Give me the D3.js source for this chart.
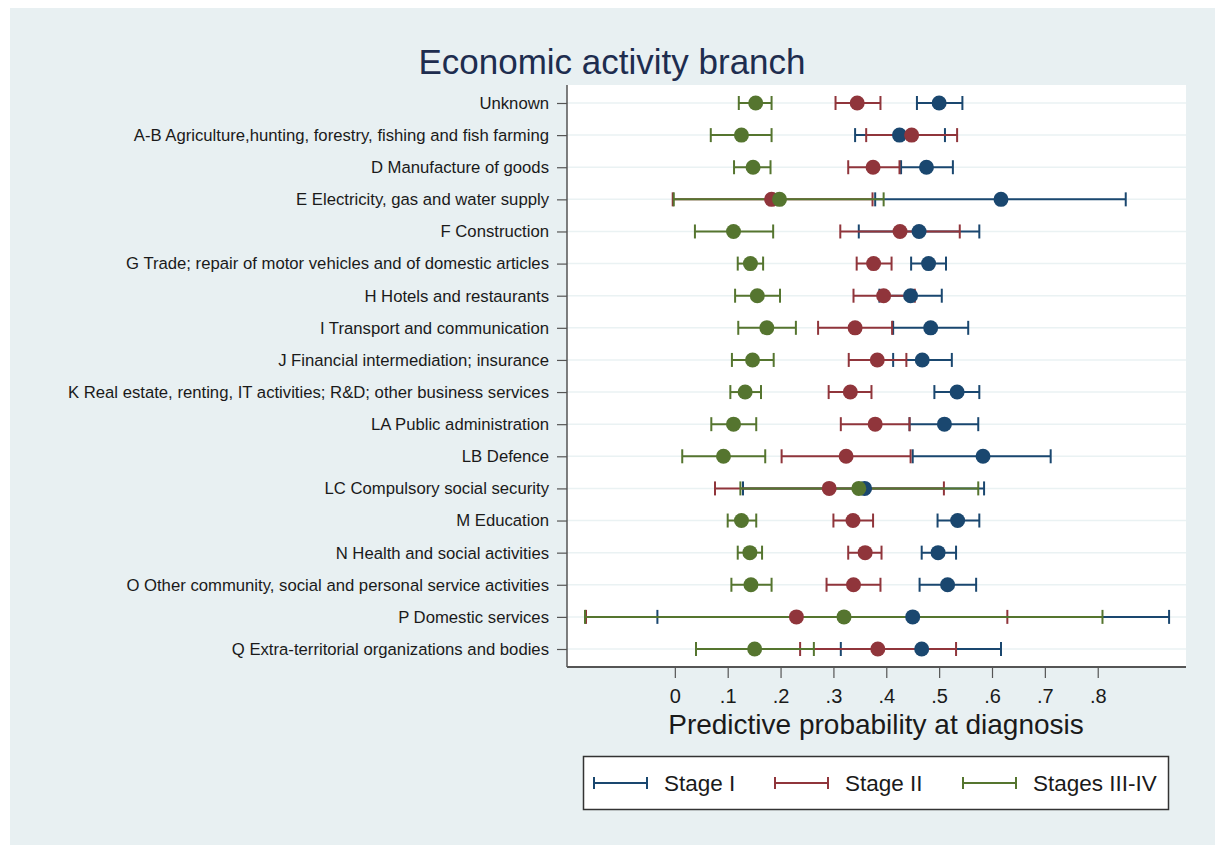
<!DOCTYPE html>
<html>
<head>
<meta charset="utf-8">
<script src="https://cdn.jsdelivr.net/npm/d3@7"></script>
<style>
  html, body { margin: 0; padding: 0; background: #ffffff; }
  svg { display: block; font-family: "Liberation Sans", Arial, sans-serif; }
</style>
</head>
<body>
<svg id="chart" width="1217" height="845"></svg>
<script>
const categories = [
  "Unknown",
  "A-B Agriculture,hunting, forestry, fishing and fish farming",
  "D Manufacture of goods",
  "E Electricity, gas and water supply",
  "F Construction",
  "G Trade; repair of motor vehicles and of domestic articles",
  "H Hotels and restaurants",
  "I Transport and communication",
  "J Financial intermediation; insurance",
  "K Real estate, renting, IT activities; R&D; other business services",
  "LA Public administration",
  "LB Defence",
  "LC Compulsory social security",
  "M Education",
  "N Health and social activities",
  "O Other community, social and personal service activities",
  "P Domestic services",
  "Q Extra-territorial organizations and bodies"
];

const stageI_est = [0.500, 0.425, 0.476, 0.617, 0.462, 0.480, 0.446, 0.484, 0.468, 0.534, 0.510, 0.583, 0.359, 0.535, 0.498, 0.516, 0.450, 0.467];
const stageI_lo  = [0.458, 0.341, 0.428, 0.379, 0.348, 0.447, 0.387, 0.413, 0.413, 0.491, 0.444, 0.450, 0.129, 0.497, 0.467, 0.463, -0.033, 0.314];
const stageI_hi  = [0.544, 0.511, 0.526, 0.853, 0.576, 0.513, 0.505, 0.555, 0.524, 0.576, 0.574, 0.711, 0.585, 0.576, 0.532, 0.570, 0.935, 0.617];

const stageII_est = [0.345, 0.448, 0.375, 0.183, 0.426, 0.376, 0.395, 0.341, 0.383, 0.332, 0.379, 0.324, 0.292, 0.337, 0.360, 0.338, 0.230, 0.384];
const stageII_lo  = [0.304, 0.362, 0.328, -0.004, 0.313, 0.344, 0.338, 0.271, 0.329, 0.291, 0.314, 0.202, 0.076, 0.300, 0.328, 0.287, -0.168, 0.237];
const stageII_hi  = [0.389, 0.534, 0.425, 0.374, 0.539, 0.410, 0.454, 0.411, 0.438, 0.372, 0.444, 0.446, 0.509, 0.375, 0.391, 0.389, 0.629, 0.532];

const stageIII_est = [0.153, 0.126, 0.148, 0.198, 0.111, 0.143, 0.156, 0.174, 0.147, 0.133, 0.111, 0.092, 0.348, 0.126, 0.142, 0.144, 0.320, 0.151];
const stageIII_lo  = [0.121, 0.068, 0.112, -0.002, 0.038, 0.119, 0.114, 0.120, 0.108, 0.105, 0.069, 0.014, 0.124, 0.100, 0.119, 0.107, -0.170, 0.040];
const stageIII_hi  = [0.183, 0.183, 0.181, 0.395, 0.186, 0.167, 0.199, 0.229, 0.187, 0.163, 0.154, 0.171, 0.574, 0.154, 0.165, 0.183, 0.809, 0.263];

const xTicks = [0, 0.1, 0.2, 0.3, 0.4, 0.5, 0.6, 0.7, 0.8];
const xTickLabels = ["0", ".1", ".2", ".3", ".4", ".5", ".6", ".7", ".8"];
const seriesNames = ["Stage I", "Stage II", "Stages III-IV"];
const seriesColors = ["#1a476f", "#90353b", "#55752f"];

const titleText = "Economic activity branch";
const xTitleText = "Predictive probability at diagnosis";

const series = [
  { name: seriesNames[0], color: seriesColors[0], est: stageI_est, lo: stageI_lo, hi: stageI_hi },
  { name: seriesNames[1], color: seriesColors[1], est: stageII_est, lo: stageII_lo, hi: stageII_hi },
  { name: seriesNames[2], color: seriesColors[2], est: stageIII_est, lo: stageIII_lo, hi: stageIII_hi }
];

const svg = d3.select("#chart");

// outer graph region
svg.append("rect").attr("x", 10).attr("y", 8).attr("width", 1205).attr("height", 837).attr("fill", "#e8f0f2");

const plot = { left: 567, right: 1186, top: 85, bottom: 667 };

svg.append("rect")
  .attr("x", plot.left).attr("y", plot.top)
  .attr("width", plot.right - plot.left).attr("height", plot.bottom - plot.top)
  .attr("fill", "#ffffff");

const x = d3.scaleLinear().domain([-0.204, 0.967]).range([plot.left, plot.right]);
const y = d3.scalePoint().domain(categories).range([103, 649]);

// grid lines
svg.append("g").selectAll("line").data(categories).join("line")
  .attr("x1", plot.left).attr("x2", plot.right)
  .attr("y1", d => y(d)).attr("y2", d => y(d))
  .attr("stroke", "#eaf2f3").attr("stroke-width", 1.5);

// title
svg.append("text").attr("x", 612).attr("y", 74)
  .attr("text-anchor", "middle").attr("font-size", 35).attr("fill", "#1e2d4f")
  .text(titleText);

// y axis
const yAxis = d3.axisLeft(y).tickSize(10).tickPadding(8);
const gy = svg.append("g").attr("transform", `translate(${plot.left},0)`).call(yAxis);
gy.select(".domain").attr("d", `M0,${plot.top}V${plot.bottom}`).attr("stroke", "#555").attr("stroke-width", 1.5);
gy.selectAll(".tick line").attr("stroke", "#555").attr("stroke-width", 1.2);
gy.selectAll(".tick text").attr("font-size", 16.7).attr("fill", "#1a1a1a")
  .attr("font-family", "'Liberation Sans', Arial, sans-serif");

// x axis
const xAxis = d3.axisBottom(x).tickValues(xTicks).tickFormat((d, i) => xTickLabels[i]).tickSize(11).tickPadding(11);
const gx = svg.append("g").attr("transform", `translate(0,${plot.bottom})`).call(xAxis);
gx.select(".domain").attr("d", `M${plot.left},0H${plot.right}`).attr("stroke", "#555").attr("stroke-width", 2);
gx.selectAll(".tick line").attr("stroke", "#555").attr("stroke-width", 1.2);
gx.selectAll(".tick text").attr("font-size", 20).attr("fill", "#1a1a1a")
  .attr("font-family", "'Liberation Sans', Arial, sans-serif");

svg.append("text").attr("x", 876).attr("y", 734)
  .attr("text-anchor", "middle").attr("font-size", 28).attr("fill", "#1a1a1a")
  .text(xTitleText);

// error bars
const capH = 7;
series.forEach(s => {
  const g = svg.append("g").attr("stroke", s.color).attr("stroke-width", 2).attr("fill", "none");
  categories.forEach((c, i) => {
    const yy = y(c);
    g.append("line").attr("x1", x(s.lo[i])).attr("x2", x(s.hi[i])).attr("y1", yy).attr("y2", yy);
    g.append("line").attr("x1", x(s.lo[i])).attr("x2", x(s.lo[i])).attr("y1", yy - capH).attr("y2", yy + capH);
    g.append("line").attr("x1", x(s.hi[i])).attr("x2", x(s.hi[i])).attr("y1", yy - capH).attr("y2", yy + capH);
  });
});

// points
series.forEach(s => {
  svg.append("g").selectAll("circle").data(categories).join("circle")
    .attr("cx", (c, i) => x(s.est[i])).attr("cy", c => y(c))
    .attr("r", 7.5).attr("fill", s.color);
});

// legend
const lg = svg.append("g");
lg.append("rect").attr("x", 583.5).attr("y", 756.5).attr("width", 585).attr("height", 53)
  .attr("fill", "#ffffff").attr("stroke", "#333").attr("stroke-width", 1.5);
const legendX = [594, 775, 963];
series.forEach((s, i) => {
  const x0 = legendX[i], x1 = x0 + 53, yy = 783;
  const g = lg.append("g").attr("stroke", s.color).attr("stroke-width", 2);
  g.append("line").attr("x1", x0).attr("x2", x1).attr("y1", yy).attr("y2", yy);
  g.append("line").attr("x1", x0).attr("x2", x0).attr("y1", yy - 6).attr("y2", yy + 6);
  g.append("line").attr("x1", x1).attr("x2", x1).attr("y1", yy - 6).attr("y2", yy + 6);
  lg.append("text").attr("x", x1 + 17).attr("y", yy + 8).attr("font-size", 22.5).attr("fill", "#1a1a1a").text(s.name);
});
</script>
</body>
</html>
